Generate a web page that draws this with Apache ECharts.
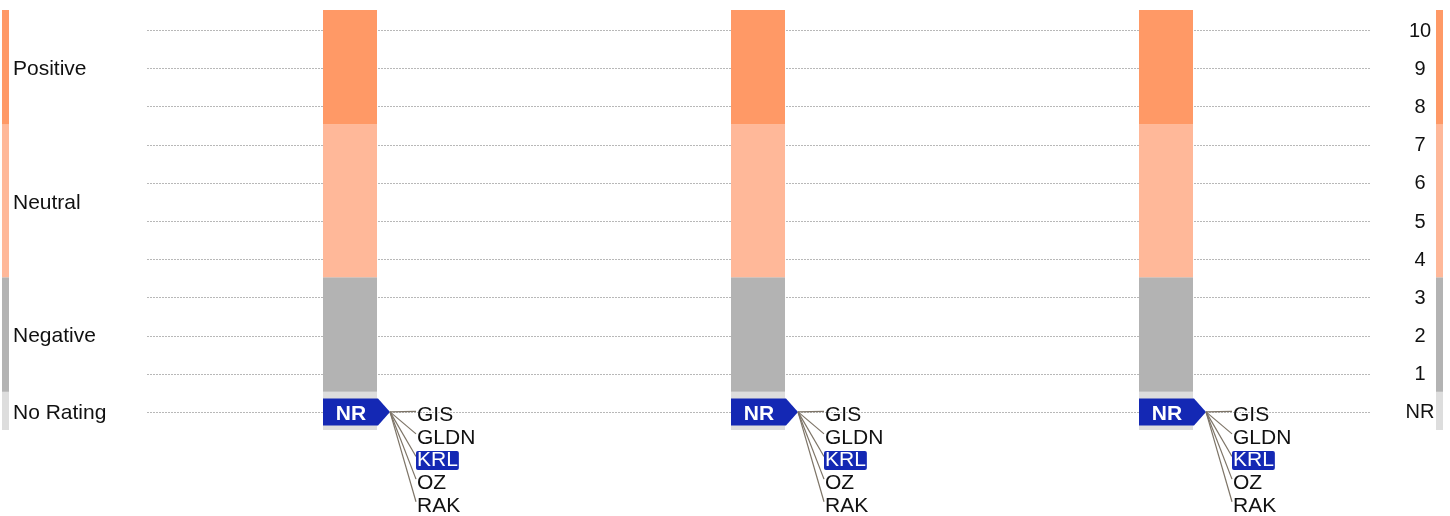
<!DOCTYPE html>
<html>
<head>
<meta charset="utf-8">
<script src="https://cdn.jsdelivr.net/npm/echarts@6/dist/echarts.min.js"></script>
<style>
html,body{margin:0;padding:0;background:#fff;}
#chart{width:1450px;height:516px;}
</style>
</head>
<body>
<div id="chart"></div>
<script>
// ---- data ----
const columns = ['A', 'B', 'C'];
const ratingLabels = ['NR', '1', '2', '3', '4', '5', '6', '7', '8', '9', '10'];
const ratingValues = [0, 1, 2, 3, 4, 5, 6, 7, 8, 9, 10];
const bandNames = ['No Rating', 'Negative', 'Neutral', 'Positive'];
const bandFrom = [-0.5, 0.5, 3.5, 7.5];
const bandTo = [0.5, 3.5, 7.5, 10.5];
const bandLabelAt = [0, 2, 5.5, 9];
const bandColors = ['#DDDDDD', '#B3B3B3', '#FFB899', '#FF9966'];
const nrRating = 0;
const nrTickers = ['GIS', 'GLDN', 'KRL', 'OZ', 'RAK'];
const highlightedTicker = 'KRL';

const FONT = '"Liberation Sans", Arial, Helvetica, sans-serif';
const BLUE = '#1428B4';
const TEXT = '#111111';

// ---- derived series data ----
const bandCells = [];
columns.forEach((c, ci) => {
  bandNames.forEach((b, bi) => bandCells.push([ci, bandFrom[bi], bandTo[bi], bi]));
});
const bandRows = bandNames.map((b, bi) => [0, bandFrom[bi], bandTo[bi], bi, bandLabelAt[bi]]);
const nrCells = columns.map((c, ci) => [ci, nrRating]);
const ratingRows = ratingValues.map((v, i) => [0, v, i]);

const chart = echarts.init(document.getElementById('chart'), null, { renderer: 'canvas' });

const option = {
  animation: false,
  backgroundColor: '#ffffff',
  grid: { left: 146, right: 80, top: 10, bottom: 86, containLabel: false },
  xAxis: {
    type: 'category',
    data: columns,
    axisLine: { show: false },
    axisTick: { show: false },
    axisLabel: { show: false },
    splitLine: { show: false }
  },
  yAxis: {
    type: 'value',
    min: -0.5,
    max: 10.5,
    show: false
  },
  series: [
    // dotted gridlines + right rating labels
    {
      type: 'custom',
      z: 1,
      silent: true,
      clip: false,
      data: ratingRows,
      renderItem: function (params, api) {
        const yc = api.coord([0, api.value(1)])[1];
        const y = Math.round(yc) + 1.5;
        const cs = params.coordSys;
        return {
          type: 'group',
          children: [
            {
              type: 'line',
              shape: { x1: cs.x + 1, y1: y, x2: cs.x + cs.width, y2: y },
              style: { stroke: '#b8b8b8', lineWidth: 1, lineDash: [2, 1] }
            },
            {
              type: 'text', x: cs.x + cs.width + 50, y: yc + 2,
              style: { text: ratingLabels[api.value(2)], font: '20px ' + FONT, fill: TEXT, textAlign: 'center', textVerticalAlign: 'middle' }
            }
          ]
        };
      }
    },
    // column bands
    {
      type: 'custom',
      z: 2,
      silent: true,
      data: bandCells,
      renderItem: function (params, api) {
        const p1 = api.coord([api.value(0), api.value(2)]);
        const p0 = api.coord([api.value(0), api.value(1)]);
        const w = 54;
        return {
          type: 'rect',
          shape: { x: p1[0] - w / 2, y: p1[1], width: w, height: p0[1] - p1[1] },
          style: { fill: bandColors[api.value(3)] }
        };
      }
    },
    // left & right strips + band labels
    {
      type: 'custom',
      z: 3,
      silent: true,
      clip: false,
      data: bandRows,
      renderItem: function (params, api) {
        const top = api.coord([0, api.value(2)])[1];
        const bot = api.coord([0, api.value(1)])[1];
        const mid = api.coord([0, api.value(4)])[1] + 2;
        const bi = api.value(3);
        const cs = params.coordSys;
        return {
          type: 'group',
          children: [
            { type: 'rect', shape: { x: 2, y: top, width: 7, height: bot - top }, style: { fill: bandColors[bi] } },
            { type: 'rect', shape: { x: cs.x + cs.width + 66, y: top, width: 7, height: bot - top }, style: { fill: bandColors[bi] } },
            { type: 'text', x: 13, y: mid, style: { text: bandNames[bi], font: '21px ' + FONT, fill: TEXT, textAlign: 'left', textVerticalAlign: 'middle' } }
          ]
        };
      }
    },
    // NR markers with ticker fans
    {
      type: 'custom',
      z: 4,
      silent: true,
      clip: false,
      data: nrCells,
      renderItem: function (params, api) {
        const p = api.coord([api.value(0), api.value(1)]);
        const cx = p[0], cy = p[1] + 1;
        const children = [];
        children.push({
          type: 'polygon',
          shape: { points: [[cx - 27, cy - 13.5], [cx + 28, cy - 13.5], [cx + 40, cy], [cx + 28, cy + 13.5], [cx - 27, cy + 13.5]] },
          style: { fill: BLUE }
        });
        children.push({
          type: 'text', x: cx + 1, y: cy + 2,
          style: { text: 'NR', font: 'bold 21px ' + FONT, fill: '#ffffff', textAlign: 'center', textVerticalAlign: 'middle' }
        });
        const tipX = cx + 40, tipY = cy;
        nrTickers.forEach((t, k) => {
          const ly = p[1] + 4.4 + k * 22.6;
          children.push({
            type: 'line',
            shape: { x1: tipX, y1: tipY, x2: cx + 66, y2: ly - 4 },
            style: { stroke: '#7d7467', lineWidth: 1.2 }
          });
          const hl = t === highlightedTicker;
          children.push({
            type: 'text', x: hl ? cx + 66 : cx + 67, y: ly,
            style: hl ? {
              text: t, font: '21px ' + FONT, fill: '#ffffff', textAlign: 'left', textVerticalAlign: 'middle',
              backgroundColor: BLUE, padding: [0, 1, 0, 1], borderRadius: 2, lineHeight: 19
            } : {
              text: t, font: '21px ' + FONT, fill: TEXT, textAlign: 'left', textVerticalAlign: 'middle'
            }
          });
        });
        return { type: 'group', children: children };
      }
    }
  ]
};
chart.setOption(option);
</script>
</body>
</html>
